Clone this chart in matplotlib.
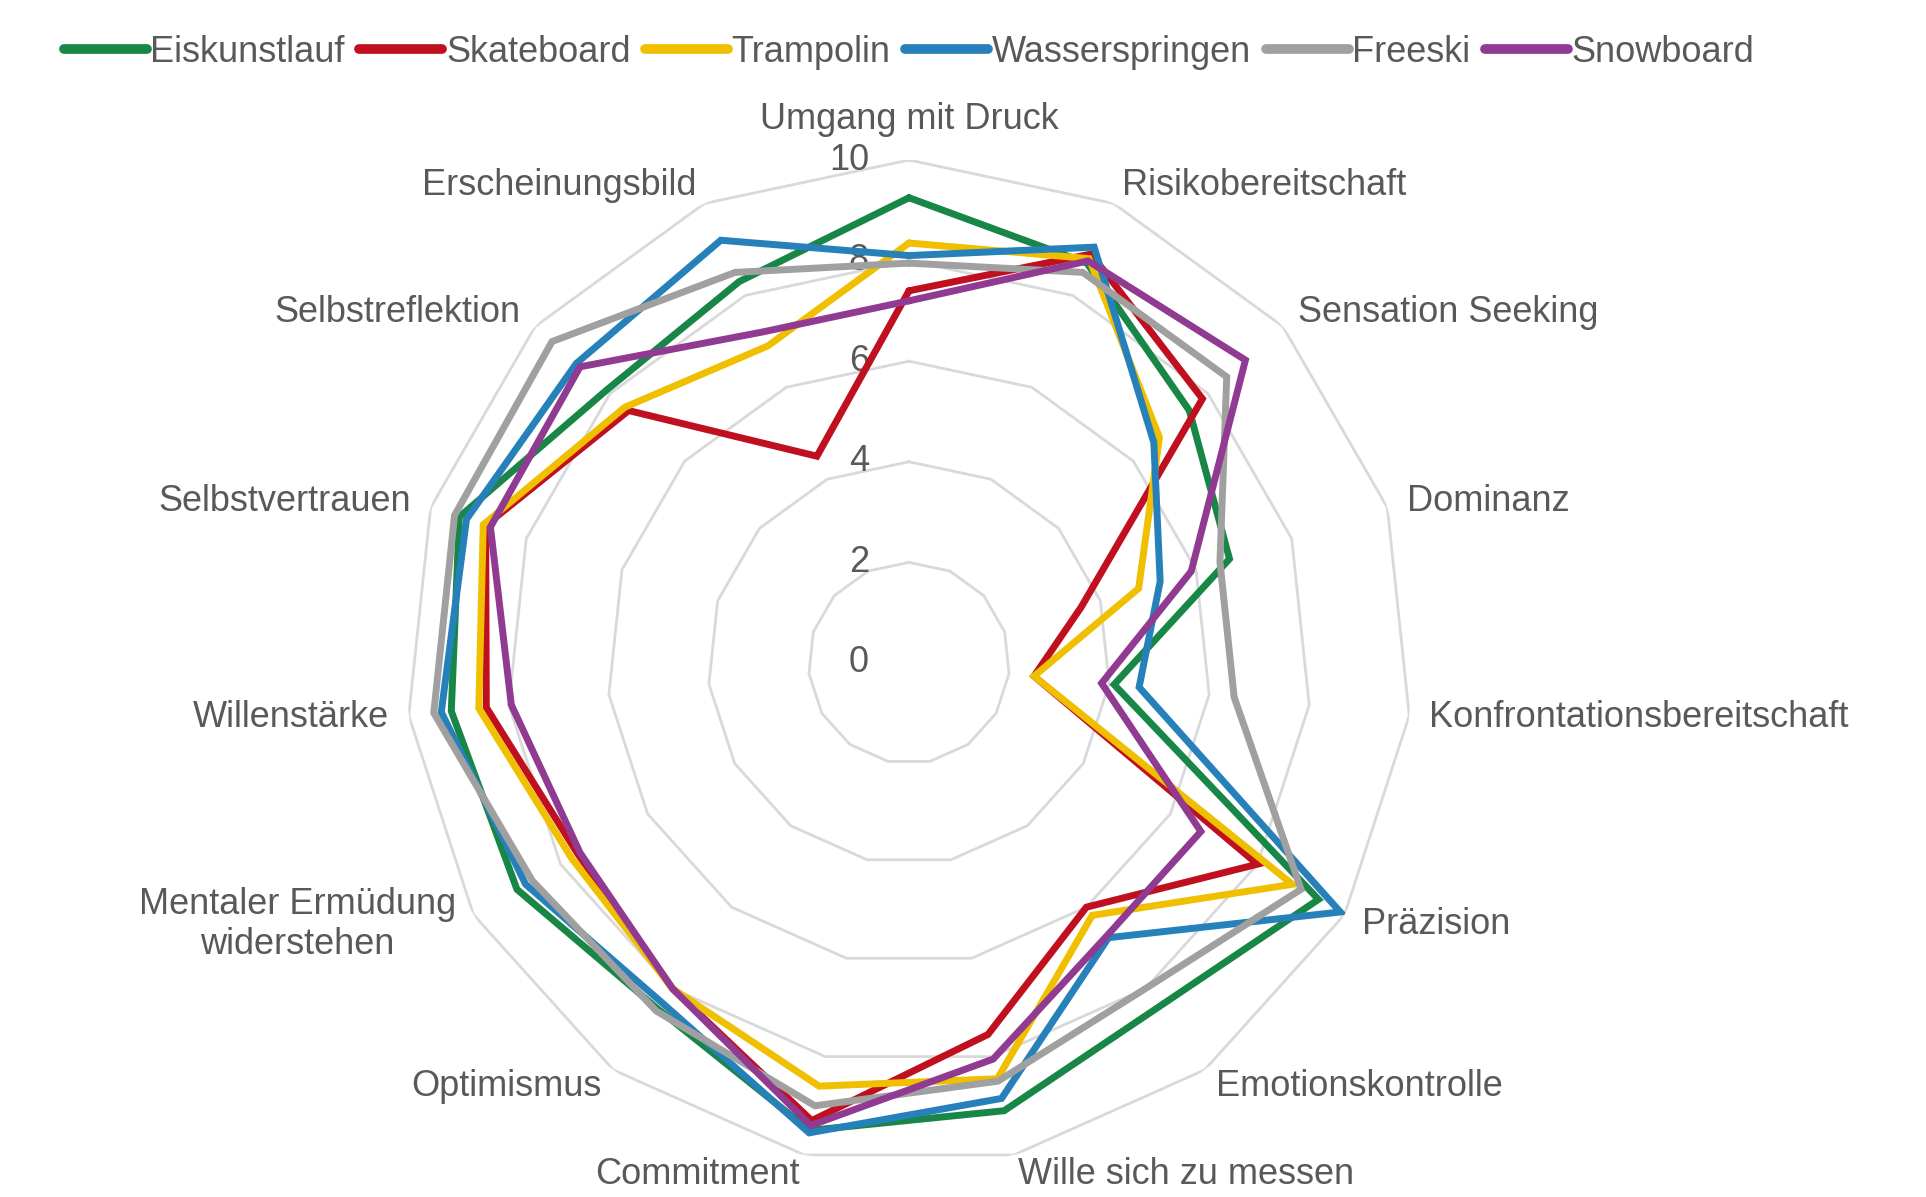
import numpy as np
import matplotlib.pyplot as plt
from matplotlib.lines import Line2D
from matplotlib.transforms import offset_copy

plt.rcParams['font.family'] = ['Liberation Sans', 'DejaVu Sans']

# Kategorien im Uhrzeigersinn, oben beginnend
kategorien = ['Umgang mit Druck', 'Risikobereitschaft', 'Sensation Seeking', 'Dominanz',
              'Konfrontationsbereitschaft', 'Präzision', 'Emotionskontrolle',
              'Wille sich zu messen', 'Commitment', 'Optimismus',
              'Mentaler Ermüdung\nwiderstehen', 'Willenstärke', 'Selbstvertrauen',
              'Selbstreflektion', 'Erscheinungsbild']

eiskunstlauf   = [9.25, 8.7, 7.5, 6.7, 4.1, 9.4, 8.45, 9.1, 9.5, 8.5, 9.0, 9.15, 9.4, 8.1, 8.3]
skateboard     = [7.4, 8.9, 7.85, 3.6, 2.5, 8.0, 6.0, 7.55, 9.3, 8.0, 7.6, 8.45, 8.85, 7.5, 4.5]
trampolin      = [8.35, 8.8, 6.7, 4.8, 2.5, 8.8, 6.2, 8.45, 8.6, 8.0, 7.75, 8.6, 8.9, 7.6, 6.9]
wasserspringen = [8.1, 9.05, 6.55, 5.25, 4.6, 9.9, 6.75, 8.85, 9.55, 8.35, 8.8, 9.35, 9.25, 8.9, 9.2]
freeski        = [7.95, 8.5, 8.5, 6.5, 6.5, 9.0, 8.0, 8.5, 9.0, 8.55, 8.65, 9.5, 9.5, 9.55, 8.5]
snowboard      = [7.2, 8.75, 9.0, 5.9, 3.85, 6.7, 6.7, 8.05, 9.4, 8.0, 7.55, 7.95, 8.75, 8.8, 7.2]

sportarten = ['Eiskunstlauf', 'Skateboard', 'Trampolin', 'Wasserspringen', 'Freeski', 'Snowboard']
werte = [eiskunstlauf, skateboard, trampolin, wasserspringen, freeski, snowboard]
farben = ['#188646', '#C01020', '#F0C000', '#2680BA', '#A0A0A0', '#913A91']
ringe = [2, 4, 6, 8, 10]

textfarbe = '#595959'
fs = 26

W, H = 1926, 1197
cx, cy, R = 909, 663, 503
fig = plt.figure(figsize=(W / 100, H / 100), dpi=100)
ax = fig.add_axes([(cx - R) / W, (H - cy - R) / H, 2 * R / W, 2 * R / H], projection='polar')
ax.set_theta_offset(np.pi / 2)
ax.set_theta_direction(-1)
ax.set_ylim(0, 10)
ax.axis('off')

n = len(kategorien)
theta = np.arange(n) * 2 * np.pi / n
theta_zu = np.append(theta, theta[0])

# Gitter als Vielecke
for v in ringe:
    ax.plot(theta_zu, [v] * (n + 1), color='#d9d9d9', lw=2, zorder=1)

for name, w, c in zip(sportarten, werte, farben):
    ax.plot(theta_zu, w + [w[0]], color=c, lw=5, solid_joinstyle='miter',
            solid_capstyle='round', label=name, zorder=3)

# Achsenbeschriftung (Werte)
trans = offset_copy(ax.transData, fig=fig, x=-40, y=0, units='dots')
for v in [0] + ringe:
    ax.text(0, v, str(v), transform=trans, ha='right', va='center',
            fontsize=fs, color=textfarbe, zorder=2)

# Kategorien
for k, (t, name) in enumerate(zip(theta, kategorien)):
    winkel = np.deg2rad(90 - 24 * k)
    if k == 0:
        ax.text(t, 10.45, name, ha='center', va='bottom', fontsize=fs, color=textfarbe)
    else:
        ha = 'left' if np.cos(winkel) > 0.01 else 'right'
        ax.text(t, 10.4, name, ha=ha, va='center', fontsize=fs, color=textfarbe,
                multialignment='center')

griffe = [Line2D([], [], color=c, lw=7, solid_capstyle='round') for c in farben]
fig.legend(griffe, sportarten, loc='center', bbox_to_anchor=(cx / W, 1 - 52 / H), ncol=6,
           frameon=False, fontsize=fs, handlelength=2.3, handletextpad=0.1,
           columnspacing=0.4, labelcolor=textfarbe)

fig.savefig('out.png', dpi=100)
